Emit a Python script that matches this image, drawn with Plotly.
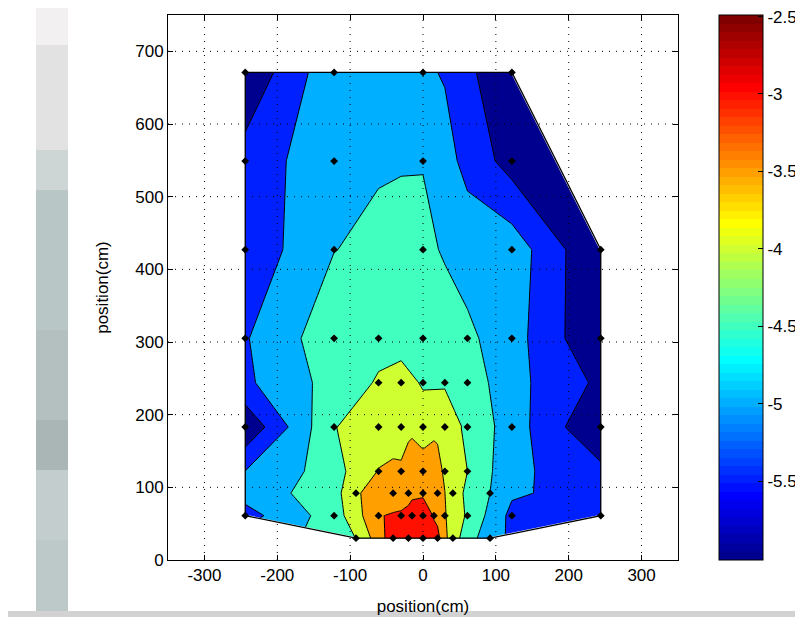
import numpy as np
import plotly.graph_objects as go

# ---------------- data (positions in cm, measured values) ----------------
pos_x = [-244, -122, 0, 122,
         -244, -122, 0, 122,
         -244, -122, 0, 122, 244,
         -244, -122, -61, 0, 61, 122, 244,
         -61, -30, 0, 30, 61,
         -244, -122, -61, -30, 0, 30, 61, 122, 244,
         -61, -30, 0, 30, 61,
         -92, -41, -20, 0, 20, 41, 92,
         -244, -122, -61, -30, -15, 0, 15, 30, 61, 122, 244,
         -92, -41, -20, 0, 20, 41, 92]
pos_y = [671, 671, 671, 671,
         549, 549, 549, 549,
         427, 427, 427, 427, 427,
         305, 305, 305, 305, 305, 305, 305,
         244, 244, 244, 244, 244,
         183, 183, 183, 183, 183, 183, 183, 183, 183,
         122, 122, 122, 122, 122,
         92, 92, 92, 92, 92, 92, 92,
         61, 61, 61, 61, 61, 61, 61, 61, 61, 61, 61,
         30, 30, 30, 30, 30, 30, 30]
value = [-5.91, -4.63, -4.92, -5.96,
         -5.30, -4.65, -4.52, -5.71,
         -5.36, -4.51, -4.39, -4.71, -6.01,
         -5.04, -4.18, -4.15, -4.10, -4.40, -4.79, -5.98,
         -3.95, -3.88, -4.03, -4.05, -4.20,
         -5.92, -4.02, -3.75, -3.80, -3.85, -3.70, -4.10, -4.75, -6.00,
         -3.48, -3.40, -3.15, -3.55, -4.00,
         -3.55, -3.20, -3.15, -3.10, -3.18, -3.80, -4.50,
         -5.20, -4.25, -3.02, -2.95, -2.80, -2.60, -3.05, -3.45, -4.05, -5.14, -5.35,
         -3.99, -2.70, -2.60, -2.49, -2.85, -3.80, -4.85]

# the coarse measurement grid (upper part) and the dense one (lower part) meet at this full row
split_row = 183

x_ticks = [-300, -200, -100, 0, 100, 200, 300]
x_tick_text = ["-300", "-200", "-100", "0", "100", "200", "300"]
y_ticks = [0, 100, 200, 300, 400, 500, 600, 700]
y_tick_text = ["0", "100", "200", "300", "400", "500", "600", "700"]
cb_ticks = [-5.5, -5.0, -4.5, -4.0, -3.5, -3.0, -2.5]
cb_tick_text = ["-5.5", "-5", "-4.5", "-4", "-3.5", "-3", "-2.5"]
levels = [-5.5, -5.0, -4.5, -4.0, -3.5, -3.0]
axis_title = "position(cm)"

# ---------------- colour maps (MATLAB jet(64)) ----------------
def matlab_jet(m=64):
    n = int(np.ceil(m / 4))
    u = np.concatenate([np.arange(1, n + 1) / n, np.ones(n - 1), np.arange(n, 0, -1) / n])
    g = int(np.ceil(n / 2)) - (1 if m % 4 == 1 else 0) + np.arange(1, len(u) + 1)
    r = g + n
    b = g - n
    J = np.zeros((m, 3))
    for idx, col in ((r, 0), (g, 1), (b, 2)):
        ok = (idx >= 1) & (idx <= m)
        J[idx[ok] - 1, col] = u[ok]
    return J

def rgb(c):
    return "rgb(%d,%d,%d)" % tuple(int(round(v * 255)) for v in c)

JET = matlab_jet(64)
zmin, zmax = min(value), max(value)

def cidx(v):
    i = int(np.fix((v - zmin) / (zmax - zmin) * 64))
    return min(max(i, 0), 63)

band_colors = [rgb(JET[cidx(zmin)])] + [rgb(JET[cidx(L)]) for L in levels]
nb = len(band_colors) - 1
contour_scale = []
for k, c in enumerate(band_colors):
    contour_scale.append([max(0.0, (k - 0.5) / nb), c])
    contour_scale.append([min(1.0, (k + 0.5) / nb), c])

bar_scale = []
for i in range(64):
    bar_scale.append([i / 64, rgb(JET[i])])
    bar_scale.append([(i + 1) / 64, rgb(JET[i])])

# ---------------- convex hull of the measured points ----------------
pts = sorted(set(zip(pos_x, pos_y)))

def cross(o, a, b):
    return (a[0] - o[0]) * (b[1] - o[1]) - (a[1] - o[1]) * (b[0] - o[0])

lower, upper = [], []
for p in pts:
    while len(lower) >= 2 and cross(lower[-2], lower[-1], p) <= 0:
        lower.pop()
    lower.append(p)
for p in reversed(pts):
    while len(upper) >= 2 and cross(upper[-2], upper[-1], p) <= 0:
        upper.pop()
    upper.append(p)
hull = lower[:-1] + upper[:-1]

bx0, bx1, by0, by1 = min(pos_x), max(pos_x), min(pos_y), max(pos_y)
corners = {(bx0, by0), (bx0, by1), (bx1, by0), (bx1, by1)}

fig = go.Figure()

def contour_part(sel):
    return go.Contour(
        x=[pos_x[i] for i in sel], y=[pos_y[i] for i in sel], z=[value[i] for i in sel],
        autocontour=False,
        contours=dict(start=levels[0], end=levels[-1], size=levels[1] - levels[0],
                      coloring="fill", showlines=True),
        line=dict(color="black", width=1, smoothing=0),
        colorscale=contour_scale,
        showscale=False,
        connectgaps=True,
        hoverinfo="skip",
    )

upper_sel = [i for i in range(len(value)) if pos_y[i] >= split_row]
lower_sel = [i for i in range(len(value)) if pos_y[i] <= split_row]
fig.add_trace(contour_part(upper_sel))
fig.add_trace(contour_part(lower_sel))

# white masks outside the hull of the measured points
for i in range(len(hull)):
    p, q = hull[i], hull[(i + 1) % len(hull)]
    if p[0] == q[0] or p[1] == q[1]:
        continue
    for c in ((p[0], q[1]), (q[0], p[1])):
        if c in corners:
            fig.add_trace(go.Scatter(
                x=[p[0], q[0], c[0], p[0]], y=[p[1], q[1], c[1], p[1]],
                mode="lines", fill="toself", fillcolor="white",
                line=dict(width=2, color="white"), hoverinfo="skip", showlegend=False))

# hull outline
fig.add_trace(go.Scatter(
    x=[h[0] for h in hull] + [hull[0][0]], y=[h[1] for h in hull] + [hull[0][1]],
    mode="lines", line=dict(color="black", width=1.3), hoverinfo="skip", showlegend=False))

# measured points
fig.add_trace(go.Scatter(
    x=pos_x, y=pos_y, mode="markers",
    marker=dict(symbol="diamond", size=6, color="black"),
    showlegend=False, hoverinfo="skip"))

# window geometry in screen pixels; the page body adds an 8 px margin
OFF = 8
FIG_W, FIG_H = 803 - OFF, 617 - OFF
L, W, T, H = 168 - OFF, 510, 15 - OFF, 545
cb_left = 719 - OFF

def px(p):
    return (p - OFF - L) / W

def py(p):
    return (T + H - (p - OFF)) / H

fam = "Liberation Sans, Arial, sans-serif"

# colour bar carrier
fig.add_trace(go.Scatter(
    x=pos_x, y=pos_y, mode="markers",
    marker=dict(color=value, colorscale=bar_scale, cmin=zmin, cmax=zmax, opacity=0, size=1,
                showscale=True,
                colorbar=dict(x=(cb_left - L) / W, xanchor="left", xpad=0, ypad=0,
                              y=0.5, yanchor="middle", len=1, lenmode="fraction",
                              thickness=44, thicknessmode="pixels",
                              outlinewidth=1, outlinecolor="black",
                              tickvals=cb_ticks, ticktext=cb_tick_text,
                              ticks="inside", ticklen=5, tickcolor="black",
                              ticklabeloverflow="allow",
                              tickfont=dict(family=fam, size=17, color="black"))),
    showlegend=False, hoverinfo="skip"))

font = dict(family=fam, size=17, color="black")

shapes = []
dot = "1px,6px"
for v in x_ticks:
    shapes.append(dict(type="line", xref="x", yref="paper", x0=v, x1=v, y0=0, y1=1,
                       line=dict(color="black", width=1, dash=dot), layer="above"))
for v in y_ticks[1:]:
    shapes.append(dict(type="line", xref="paper", yref="y", x0=0, x1=1, y0=v, y1=v,
                       line=dict(color="black", width=1, dash=dot), layer="above"))
# left-side colour bar ticks
for v in cb_ticks:
    yp = (v - zmin) / (zmax - zmin)
    shapes.append(dict(type="line", xref="paper", yref="paper",
                       x0=(cb_left - L) / W, x1=(cb_left + 5 - L) / W,
                       y0=yp, y1=yp, line=dict(color="black", width=1), layer="above"))

# window background (grey strip on the left, bottom edge), screen pixel rows
strip = [(8, 45, "#f2f0f0"), (45, 150, "#e2e2e2"), (150, 190, "#cdd5d5"), (190, 330, "#b9c6c6"),
         (330, 420, "#b4c0c0"), (420, 470, "#aab5b5"), (470, 540, "#c3cdcd"), (540, 611, "#bdc8c8")]
for a, b, c in strip:
    shapes.append(dict(type="rect", xref="paper", yref="paper", x0=px(36), x1=px(68),
                       y0=py(b), y1=py(a), fillcolor=c, line=dict(width=0), layer="below"))
shapes.append(dict(type="rect", xref="paper", yref="paper", x0=px(8), x1=px(803),
                   y0=py(617), y1=py(611), fillcolor="#d2d2d2", line=dict(width=0), layer="below"))

fig.update_layout(
    width=FIG_W, height=FIG_H,
    margin=dict(l=L, r=FIG_W - L - W, t=T, b=FIG_H - T - H, autoexpand=False),
    paper_bgcolor="white", plot_bgcolor="white",
    font=font,
    showlegend=False,
    shapes=shapes,
    xaxis=dict(range=[-350, 350], tickvals=x_ticks, ticktext=x_tick_text,
               showgrid=False, zeroline=False, showline=True, linecolor="black", linewidth=1,
               mirror="ticks", ticks="inside", ticklen=5, tickcolor="black",
               layer="above traces", tickfont=font,
               title=dict(text=axis_title, font=font, standoff=15)),
    yaxis=dict(range=[0, 750], tickvals=y_ticks, ticktext=y_tick_text,
               showgrid=False, zeroline=False, showline=True, linecolor="black", linewidth=1,
               mirror="ticks", ticks="inside", ticklen=5, tickcolor="black",
               layer="above traces", tickfont=font,
               title=dict(text=axis_title, font=font, standoff=22)),
)

fig.write_html("out.html")
